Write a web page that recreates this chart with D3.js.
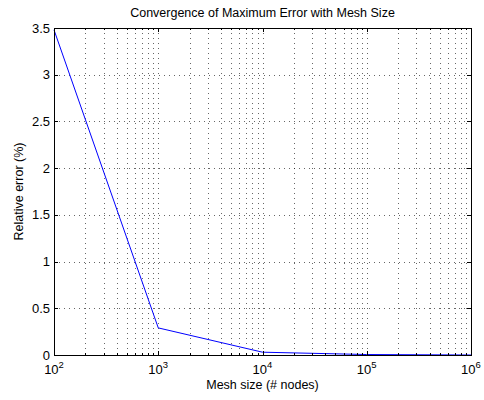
<!DOCTYPE html>
<html>
<head>
<meta charset="utf-8">
<script src="https://cdn.jsdelivr.net/npm/d3@7"></script>
<style>
  body { margin: 0; background: #fff; }
  text { font-family: "Liberation Sans", Arial, sans-serif; }
</style>
</head>
<body>
<div id="chart"></div>
<script>
// mesh sizes and max relative error
var meshSizes = [1e2, 1e3, 1e4, 1e5, 1e6];
var relError = [3.48, 0.29, 0.03, 0.005, 0.0];
var xTicks = [1e2, 1e3, 1e4, 1e5, 1e6];
var yTicks = [0, 0.5, 1, 1.5, 2, 2.5, 3, 3.5];

var width = 484, height = 400;
var margin = {top: 28, right: 13, bottom: 45, left: 54};
var innerW = width - margin.left - margin.right;
var innerH = height - margin.top - margin.bottom;

var svg = d3.select("#chart").append("svg")
    .attr("width", width).attr("height", height);
var g = svg.append("g").attr("transform", "translate(" + margin.left + "," + margin.top + ")");

var x = d3.scaleLog().domain([1e2, 1e6]).range([0, innerW]);
var y = d3.scaleLinear().domain([0, 3.5]).range([innerH, 0]);

// minor log ticks 2..9 per decade
var minor = [];
for (var e = 2; e < 6; e++) {
    for (var m = 2; m <= 9; m++) minor.push(m * Math.pow(10, e));
}

var grid = g.append("g").attr("stroke", "#000").attr("stroke-width", 0.6)
    .attr("stroke-dasharray", "1,4").attr("fill", "none");
grid.selectAll(".gx").data(minor.concat(xTicks.slice(1, -1))).enter().append("line")
    .attr("x1", d => Math.round(x(d)) + 0.5).attr("x2", d => Math.round(x(d)) + 0.5)
    .attr("y1", 0).attr("y2", innerH);
grid.selectAll(".gy").data(yTicks.slice(1, -1)).enter().append("line")
    .attr("x1", 0).attr("x2", innerW)
    .attr("y1", d => Math.round(y(d)) + 0.5).attr("y2", d => Math.round(y(d)) + 0.5);

// data line
var line = d3.line().x((d, i) => x(meshSizes[i])).y(d => y(d));
g.append("path").datum(relError)
    .attr("d", line).attr("fill", "none")
    .attr("stroke", "#0000ff").attr("stroke-width", 1);

// inner ticks on all four sides
var tl = 4, tlMinor = 2;
var ticks = g.append("g").attr("stroke", "#000").attr("stroke-width", 1);
xTicks.forEach(function (d) {
    var px = Math.round(x(d)) + 0.5;
    ticks.append("line").attr("x1", px).attr("x2", px).attr("y1", innerH).attr("y2", innerH - tl);
    ticks.append("line").attr("x1", px).attr("x2", px).attr("y1", 0).attr("y2", tl);
});
minor.forEach(function (d) {
    var px = Math.round(x(d)) + 0.5;
    ticks.append("line").attr("x1", px).attr("x2", px).attr("y1", innerH).attr("y2", innerH - tlMinor);
    ticks.append("line").attr("x1", px).attr("x2", px).attr("y1", 0).attr("y2", tlMinor);
});
yTicks.forEach(function (d) {
    var py = Math.round(y(d)) + 0.5;
    ticks.append("line").attr("x1", 0).attr("x2", tl).attr("y1", py).attr("y2", py);
    ticks.append("line").attr("x1", innerW).attr("x2", innerW - tl).attr("y1", py).attr("y2", py);
});

// box
g.append("rect").attr("x", 0.5).attr("y", 0.5).attr("width", innerW).attr("height", innerH)
    .attr("fill", "none").attr("stroke", "#000").attr("stroke-width", 1);

// y tick labels
g.selectAll(".yl").data(yTicks).enter().append("text")
    .attr("x", -4).attr("y", d => y(d)).attr("dy", "0.35em")
    .attr("text-anchor", "end").attr("font-size", 13)
    .text(d => d);

// x tick labels as 10^n
xTicks.forEach(function (d) {
    var t = g.append("text").attr("x", x(d)).attr("y", innerH + 19)
        .attr("text-anchor", "middle").attr("font-size", 13);
    t.append("tspan").text("10");
    t.append("tspan").attr("dy", -6).attr("font-size", 9.5).text(Math.round(Math.log10(d)));
});

svg.append("text").attr("x", margin.left + innerW / 2).attr("y", 17)
    .attr("text-anchor", "middle").attr("font-size", 12.5)
    .text("Convergence of Maximum Error with Mesh Size");

svg.append("text").attr("x", margin.left + innerW / 2).attr("y", 389)
    .attr("text-anchor", "middle").attr("font-size", 12.5)
    .text("Mesh size (# nodes)");

svg.append("text")
    .attr("transform", "translate(23," + (margin.top + innerH / 2) + ") rotate(-90)")
    .attr("text-anchor", "middle").attr("font-size", 12.5)
    .text("Relative error (%)");
</script>
</body>
</html>
